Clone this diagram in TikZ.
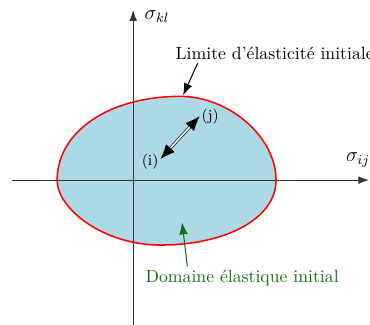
\documentclass[tikz,border=0pt]{standalone}
\usepackage{amsmath, amssymb}
\usepackage{xcolor}
\usepackage{tikz}
\usetikzlibrary{
    arrows.meta,
    positioning,
    calc
}
\definecolor{lightblue}{RGB}{173,216,230}
\definecolor{darkgreen}{RGB}{20,110,20}
\tikzset{
    axis/.style={
        -{Latex[length=2.2mm,width=1.6mm]},
        draw=black!80,
        semithick
    },
    surface/.style={
        draw=red,
        line width=0.9pt
    },
    arrow/.style={
        -{Latex[length=2.5mm,width=1.8mm]},
        semithick
    },
    dblarrow/.style={
        {Latex[length=3mm,width=2.4mm]}-{Latex[length=3mm,width=2.4mm]},
        double,
        double distance=0.9pt,
        thin
    },
    greenarrow/.style={
        -{Latex[length=2.5mm,width=1.8mm]},
        draw=darkgreen,
        fill=darkgreen,
        semithick
    },
    label/.style={
        font=\fontsize{10.4}{12}\selectfont,
        inner sep=2pt
    },
    axislabel/.style={
        font=\large,
        inner sep=2pt
    },
    smalllabel/.style={
        font=\small,
        inner sep=1pt
    }
}

\begin{document}
\begin{tikzpicture}
\useasboundingbox (-2.75,-2.99) rectangle (4.89,3.72);

% elastic domain
\fill[lightblue] (-1.57,0)
    .. controls (-1.57,1.0) and (-0.5,1.73) .. (0.97,1.73)
    .. controls (1.97,1.73) and (2.95,0.9) .. (2.95,0)
    .. controls (2.95,-0.8) and (1.9,-1.34) .. (0.56,-1.34)
    .. controls (-0.6,-1.34) and (-1.57,-0.6) .. cycle;

% axes
\coordinate (O) at (0,0);
\coordinate (xmin) at (-2.50,0);
\coordinate (xmax) at (4.87,0);
\coordinate (ymin) at (0,-2.99);
\coordinate (ymax) at (0,3.51);
\draw[axis] (xmin) -- (xmax);
\draw[axis] (ymin) -- (ymax);
\node[axislabel, anchor=west] (skl) at (0.16,3.38) {$\sigma_{kl}$};
\node[axislabel] (sij) at (4.64,0.41) {$\sigma_{ij}$};

% yield surface
\draw[surface] (-1.57,0)
    .. controls (-1.57,1.0) and (-0.5,1.73) .. (0.97,1.73)
    .. controls (1.97,1.73) and (2.95,0.9) .. (2.95,0)
    .. controls (2.95,-0.8) and (1.9,-1.34) .. (0.56,-1.34)
    .. controls (-0.6,-1.34) and (-1.57,-0.6) .. cycle;

% loading path
\node[smalllabel] (i) at (0.35,0.38) {(i)};
\node[smalllabel] (j) at (1.59,1.32) {(j)};
\draw[dblarrow] (i.15) -- (j.west);

% labels
\node[label, anchor=west] (limite) at (0.80,2.62) {Limite d'élasticité initiale};
\coordinate (tipL) at (1.03,1.75);
\draw[arrow] ([xshift=5.3mm]limite.south west) -- (tipL);

\node[label, text=darkgreen] (domaine) at (2.25,-2.02) {Domaine élastique initial};
\coordinate (tipD) at (1.01,-0.87);
\draw[greenarrow] ([xshift=9.4mm]domaine.north west) -- (tipD);
\end{tikzpicture}
\end{document}
